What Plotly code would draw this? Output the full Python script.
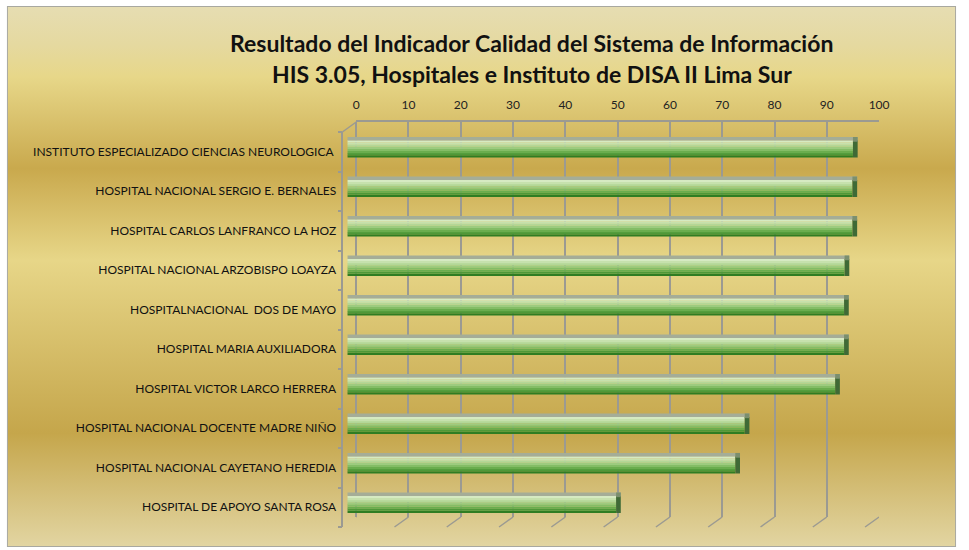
import base64
import plotly.graph_objects as go

W, H = 969, 550

title_lines = ["Resultado del Indicador Calidad del Sistema de Información",
               "HIS 3.05, Hospitales e Instituto de DISA II Lima Sur"]

categories = [
    "INSTITUTO ESPECIALIZADO CIENCIAS NEUROLOGICA\u00a0",
    "HOSPITAL NACIONAL SERGIO E. BERNALES",
    "HOSPITAL CARLOS LANFRANCO LA HOZ",
    "HOSPITAL NACIONAL ARZOBISPO LOAYZA",
    "HOSPITALNACIONAL \u00a0DOS DE MAYO",
    "HOSPITAL MARIA AUXILIADORA",
    "HOSPITAL VICTOR LARCO HERRERA",
    "HOSPITAL NACIONAL DOCENTE MADRE NIÑO",
    "HOSPITAL NACIONAL CAYETANO HEREDIA",
    "HOSPITAL DE APOYO SANTA ROSA",
]
values = [96.7, 96.6, 96.6, 95.1, 95.0, 95.0, 93.3, 76.0, 74.2, 51.4]
x_ticks = [0, 10, 20, 30, 40, 50, 60, 70, 80, 90, 100]

FONT = "Lato, 'Open Sans', 'DejaVu Sans', sans-serif"
GRID = "#9b9a92"

def px_x(p):
    return p / W

def px_y(p):
    return 1 - p / H

# background gradient (decorative) as an SVG image
svg = f'''<svg xmlns="http://www.w3.org/2000/svg" width="{W}" height="{H}" viewBox="0 0 {W} {H}">
<defs><linearGradient id="g" x1="0" y1="0" x2="0" y2="1">
<stop offset="0" stop-color="#e6ddb2"/>
<stop offset="0.07" stop-color="#e5d9a0"/>
<stop offset="0.13" stop-color="#e7d789"/>
<stop offset="0.30" stop-color="#c9a94d"/>
<stop offset="0.47" stop-color="#e7d688"/>
<stop offset="0.79" stop-color="#c5a64b"/>
<stop offset="1" stop-color="#e2d5a2"/>
</linearGradient></defs>
<rect x="0" y="0" width="{W}" height="{H}" fill="#ffffff"/>
<rect x="4.5" y="6.5" width="961" height="540" fill="url(#g)" stroke="#a8a8a0" stroke-width="1"/>
</svg>'''
bg_uri = "data:image/svg+xml;base64," + base64.b64encode(svg.encode("utf-8")).decode("ascii")

fig = go.Figure()

# invisible trace to carry the back-plane axis (gridlines + top labels)
fig.add_trace(go.Scatter(x=[0, 100], y=[0, 1], mode="markers",
                         marker=dict(opacity=0), hoverinfo="skip",
                         showlegend=False, xaxis="x", yaxis="y"))

# front face stripes (cylinder-like gradient), bottom -> top
face_colors = ["#2f7d22", "#4f9838", "#6aad4e", "#84bd66",
               "#9dcb7f", "#b3d797", "#c6e1ad", "#d6eac2"]
face_bottom = -0.145
face_h = 0.43
n = len(face_colors)
sw = face_h / n
for i, col in enumerate(face_colors):
    fig.add_trace(go.Bar(
        y=categories, x=values, orientation="h",
        width=sw + 0.004, offset=face_bottom + i * sw,
        marker=dict(color=col, line=dict(width=0)),
        showlegend=False, hoverinfo="skip" if i else "x+y",
        xaxis="x2", yaxis="y2"))

# top face of the 3D bar
top_vals = [v + 0.9 for v in values]
fig.add_trace(go.Bar(
    y=categories, x=top_vals, orientation="h",
    width=0.09, offset=face_bottom + face_h,
    marker=dict(color="#a5ad97", line=dict(width=0)),
    showlegend=False, hoverinfo="skip", xaxis="x2", yaxis="y2"))

# end cap
fig.add_trace(go.Bar(
    y=categories, x=[0.9] * len(values), base=values, orientation="h",
    width=face_h, offset=face_bottom,
    marker=dict(color="#3f6a36", line=dict(width=0)),
    showlegend=False, hoverinfo="skip", xaxis="x2", yaxis="y2"))
fig.add_trace(go.Bar(
    y=categories, x=[0.9] * len(values), base=values, orientation="h",
    width=0.12, offset=face_bottom + face_h - 0.03,
    marker=dict(color="#7b8f6e", line=dict(width=0)),
    showlegend=False, hoverinfo="skip", xaxis="x2", yaxis="y2"))

shapes = []
# perspective connector lines at the floor for each gridline
for t in x_ticks:
    shapes.append(dict(type="line", xref="x", yref="paper",
                       xsizemode="pixel", xanchor=t, x0=0, x1=-14,
                       ysizemode="pixel", yanchor=px_y(517), y0=0, y1=-10,
                       line=dict(color=GRID, width=1.5), layer="below"))
# top-left connector
shapes.append(dict(type="line", xref="paper", yref="paper",
                   x0=px_x(344), y0=px_y(132), x1=px_x(358), y1=px_y(122),
                   line=dict(color=GRID, width=1.5), layer="below"))

fig.update_layout(
    width=W, height=H, autosize=False,
    margin=dict(l=0, r=0, t=0, b=0),
    paper_bgcolor="white",
    plot_bgcolor="rgba(0,0,0,0)",
    barmode="overlay",
    showlegend=False,
    images=[dict(source=bg_uri, xref="paper", yref="paper", x=0, y=1,
                 sizex=1, sizey=1, sizing="stretch", layer="below",
                 xanchor="left", yanchor="top")],
    shapes=shapes,
    annotations=[
        dict(text="<b>" + title_lines[0] + "</b>", x=px_x(536), y=px_y(43),
             xref="paper", yref="paper", showarrow=False,
             xanchor="center", yanchor="middle",
             font=dict(family=FONT, size=23, color="#111111")),
        dict(text="<b>" + title_lines[1] + "</b>", x=px_x(536), y=px_y(74),
             xref="paper", yref="paper", showarrow=False,
             xanchor="center", yanchor="middle",
             font=dict(family=FONT, size=23, color="#111111")),
    ],
    xaxis=dict(domain=[px_x(358), px_x(888)], range=[0, 100], side="top",
               anchor="y", tickvals=x_ticks, ticks="", ticklabelstandoff=6,
               showgrid=True, gridcolor=GRID, gridwidth=1.5,
               zeroline=True, zerolinecolor=GRID, zerolinewidth=1.5,
               showline=True, linecolor=GRID, linewidth=1.5,
               tickfont=dict(family=FONT, size=12, color="#222222"),
               fixedrange=True),
    yaxis=dict(domain=[px_y(517), px_y(122)], range=[0, 1], visible=False,
               anchor="x", fixedrange=True),
    xaxis2=dict(domain=[px_x(349), px_x(879)], range=[0, 100], anchor="y2",
                visible=False, fixedrange=True),
    yaxis2=dict(domain=[px_y(527), px_y(132)], anchor="free", position=px_x(344),
                type="category", categoryorder="array",
                categoryarray=list(reversed(categories)),
                range=[-0.5, len(categories) - 0.5],
                showline=True, linecolor=GRID, linewidth=1.5,
                ticks="outside", tickson="boundaries", ticklen=4,
                tickcolor=GRID, tickwidth=1.5, ticklabelstandoff=3,
                showgrid=False, zeroline=False,
                tickfont=dict(family=FONT, size=12, color="#111111"),
                fixedrange=True),
    font=dict(family=FONT),
)

fig.write_html("out.html",
               config={"responsive": False, "displayModeBar": False},
               post_script="document.body.style.margin='0px';document.body.style.overflow='hidden';")
